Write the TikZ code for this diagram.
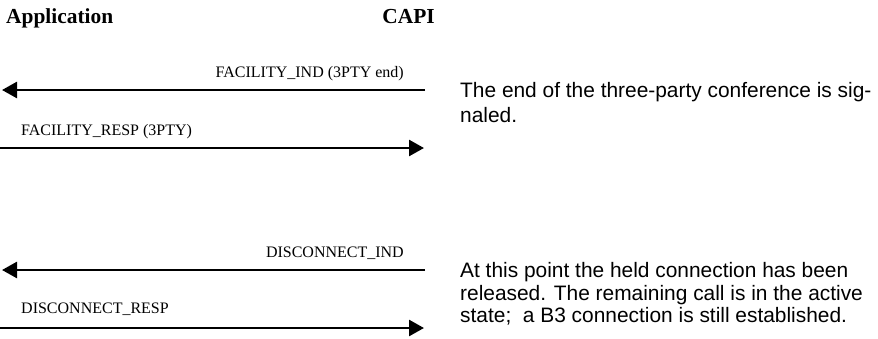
\documentclass[tikz,border=0pt]{standalone}
\usepackage{fontspec}
\setmainfont{Liberation Serif}
\newfontfamily\arialfont{Liberation Sans}
\usetikzlibrary{arrows.meta}
\begin{document}
\begin{tikzpicture}[x=1pt,y=-1pt,
  msg/.style={line width=2.6pt,-{Triangle[length=15pt,width=16pt]}},
  lbl/.style={inner sep=0pt,font=\fontsize{16}{19}\selectfont},
  ttl/.style={inner sep=0pt,font=\fontsize{21.4}{25}\selectfont\bfseries},
  note/.style={inner sep=0pt,anchor=base west,font=\arialfont\fontsize{20.9}{25}\selectfont}]
\useasboundingbox (0,0) rectangle (878,338);
% titles
\node[ttl,anchor=base west] (app) at (6,23) {Application};
\node[ttl,anchor=base east] (capi) at (435,23) {CAPI};
% arrow end points
\coordinate (a1s) at (425,90);  \coordinate (a1e) at (2,90);
\coordinate (a2s) at (0,148);   \coordinate (a2e) at (424,148);
\coordinate (a3s) at (425,270); \coordinate (a3e) at (2,270);
\coordinate (a4s) at (0,328);   \coordinate (a4e) at (424,328);
\draw[msg] (a1s) -- (a1e);
\draw[msg] (a2s) -- (a2e);
\draw[msg] (a3s) -- (a3e);
\draw[msg] (a4s) -- (a4e);
% labels
\node[lbl,anchor=base east] (l1) at (404,77) {FACILITY\_IND (3PTY end)};
\node[lbl,anchor=base west] (l2) at (21,135) {FACILITY\_RESP (3PTY)};
\node[lbl,anchor=base east] (l3) at (404,257) {DISCONNECT\_IND};
\node[lbl,anchor=base west] (l4) at (21,313) {DISCONNECT\_RESP};
% notes
\node[note] (n1a) at (460,97) {The end of the three-party conference is sig-};
\node[note] (n1b) at (460,122) {naled.};
\node[note] (n2a) at (460,277) {At this point the held connection has been};
\node[note] (n2b) at (460,300) {released. The remaining call is in the active};
\node[note] (n2c) at (460,322) {state;\ \ a B3 connection is still established.};
\end{tikzpicture}
\end{document}
